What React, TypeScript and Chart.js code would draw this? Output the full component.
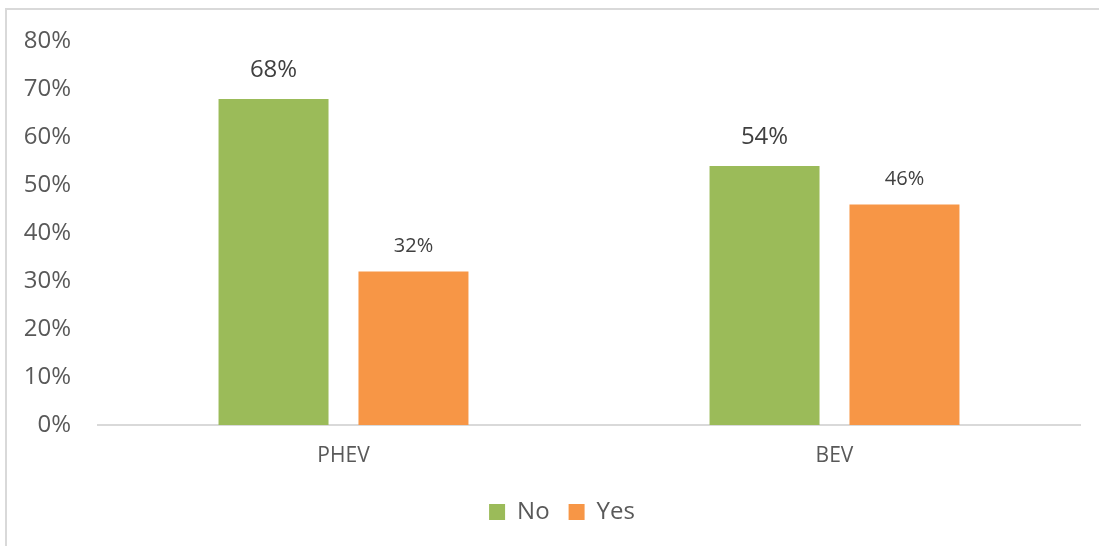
import React, { useEffect, useRef } from "react";
import { Chart, registerables } from "chart.js";

Chart.register(...registerables);

const categories = ["PHEV", "BEV"];
const seriesNames = ["No", "Yes"];
const noValues = [68, 54];
const yesValues = [32, 46];
const seriesColors = ["#9BBB59", "#F79646"];
const yMin = 0;
const yMax = 80;
const yStep = 10;

const FONT = "'Open Sans', 'DejaVu Sans', sans-serif";

const barLabelPlugin = {
  id: "barLabels",
  afterDatasetsDraw(chart: any) {
    const ctx = chart.ctx;
    chart.data.datasets.forEach((ds: any, di: number) => {
      const meta = chart.getDatasetMeta(di);
      meta.data.forEach((bar: any, i: number) => {
        const v = ds.data[i];
        ctx.save();
        ctx.font = `${di === 0 ? 24 : 20}px ${FONT}`;
        ctx.fillStyle = "#404040";
        ctx.textAlign = "center";
        ctx.textBaseline = "middle";
        ctx.fillText(v + "%", bar.x, bar.y - (di === 0 ? 28.5 : 25));
        ctx.restore();
      });
    });
  },
};

// shifts the legend box to the right so it is centred like the original
const legendShiftPlugin = {
  id: "legendShift",
  afterLayout(chart: any) {
    const lg = chart.legend;
    if (lg) {
      lg.left += 44;
    }
  },
};

export default function App() {
  const ref = useRef<HTMLCanvasElement | null>(null);

  useEffect(() => {
    if (!ref.current) return;
    const chart = new Chart(ref.current, {
      type: "bar",
      data: {
        labels: categories,
        datasets: [
          {
            label: seriesNames[0],
            data: noValues,
            backgroundColor: seriesColors[0],
            borderWidth: 0,
            categoryPercentage: 0.57,
            barPercentage: 0.786,
          },
          {
            label: seriesNames[1],
            data: yesValues,
            backgroundColor: seriesColors[1],
            borderWidth: 0,
            categoryPercentage: 0.57,
            barPercentage: 0.786,
          },
        ],
      },
      options: {
        animation: false,
        responsive: false,
        maintainAspectRatio: false,
        layout: { padding: { top: 39, right: 19, left: 0, bottom: 12 } },
        plugins: {
          tooltip: { enabled: false },
          legend: {
            position: "bottom",
            labels: {
              boxWidth: 16,
              boxHeight: 16,
              padding: 19,
              color: "#595959",
              font: { family: FONT, size: 24 },
            },
          },
        },
        scales: {
          x: {
            grid: { display: false, drawTicks: false },
            border: { display: true, color: "#D9D9D9", width: 2 },
            ticks: {
              color: "#595959",
              font: { family: FONT, size: 21 },
              padding: 18,
            },
            afterFit(scale: any) {
              scale.height = 56;
            },
          },
          y: {
            min: yMin,
            max: yMax,
            grid: { display: false, drawTicks: false },
            border: { display: false },
            ticks: {
              stepSize: yStep,
              color: "#595959",
              font: { family: FONT, size: 24 },
              padding: 27,
              callback: (v: any) => v + "%",
            },
            afterFit(scale: any) {
              scale.width = 98;
            },
          },
        },
      },
      plugins: [barLabelPlugin, legendShiftPlugin],
    });
    return () => chart.destroy();
  }, []);

  return (
    <div style={{ position: "fixed", left: 0, top: 0, width: 1099, height: 546, background: "#fff" }}>
      <div
        style={{
          position: "absolute",
          left: 5,
          top: 8,
          width: 1200,
          height: 700,
          borderLeft: "2px solid #D9D9D9",
          borderTop: "2px solid #D9D9D9",
        }}
      />
      <canvas ref={ref} width={1099} height={546} style={{ position: "absolute", left: 0, top: 0 }} />
    </div>
  );
}
